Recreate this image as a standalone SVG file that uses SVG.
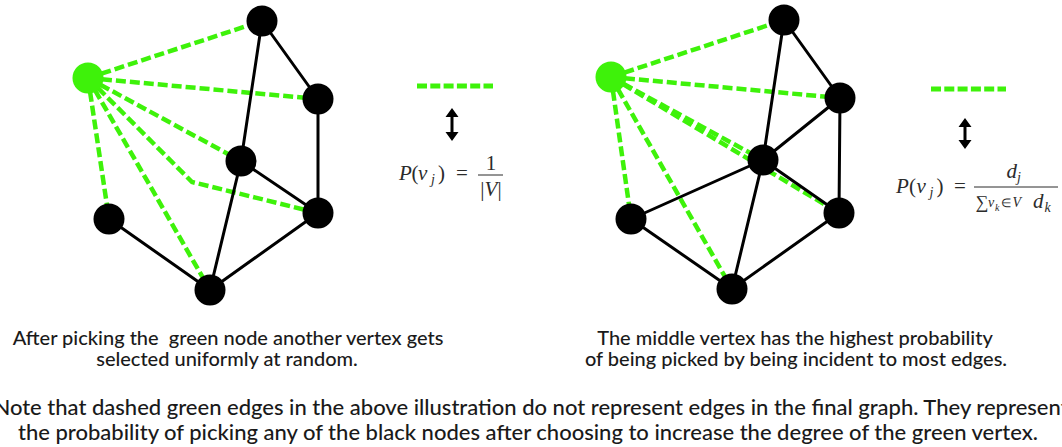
<svg xmlns="http://www.w3.org/2000/svg" width="1062" height="447" viewBox="0 0 1062 447">
<style>
.e{stroke:#000;stroke-width:3;fill:none;stroke-linecap:round}
.d{stroke:#3ef20a;stroke-width:4.5;fill:none;stroke-dasharray:10 4}
.n{fill:#000}
.g{fill:#3ef20a}
.cap{font-family:Lato,"Liberation Sans",sans-serif;font-size:20px;font-weight:500;fill:#1a1a1a;text-anchor:middle}
.note{font-family:Lato,"Liberation Sans",sans-serif;font-size:22px;font-weight:500;fill:#1a1a1a;text-anchor:middle}
.m{font-family:"Liberation Serif","Times New Roman",serif;font-size:21px;fill:#2b2b2b}
.i{font-style:italic}
.ld{stroke:#3ef20a;stroke-width:5;fill:none;stroke-dasharray:10 3.3}
.ar{stroke:#000;stroke-width:3;fill:none}
</style>

<!-- Left graph -->
<g id="left-connectors">
<path class="d" d="M88,78 L262,21"/>
<path class="d" d="M88,78 L318,99"/>
<path class="d" d="M88,78 L241,161"/>
<path class="d" d="M88,78 L192,182 L318,213"/>
<path class="d" d="M88,78 L210,290"/>
<path class="d" d="M88,78 L109,219"/>
<path class="e" d="M262,21 L318,99"/>
<path class="e" d="M262,21 L241,161"/>
<path class="e" d="M318,99 L318,213"/>
<path class="e" d="M241,161 L318,213"/>
<path class="e" d="M241,161 L210,290"/>
<path class="e" d="M318,213 L210,290"/>
<path class="e" d="M109,219 L210,290"/>
</g>
<g id="L-green"><circle class="g" cx="88" cy="78" r="15.5"/></g>
<g id="L-top"><circle class="n" cx="262" cy="21" r="15.5"/></g>
<g id="L-ru"><circle class="n" cx="318" cy="99" r="15.5"/></g>
<g id="L-mid"><circle class="n" cx="241" cy="161" r="15.5"/></g>
<g id="L-rl"><circle class="n" cx="318" cy="213" r="15.5"/></g>
<g id="L-ll"><circle class="n" cx="109" cy="219" r="15.5"/></g>
<g id="L-bot"><circle class="n" cx="210" cy="290" r="15.5"/></g>

<!-- Right graph -->
<g id="right-connectors">
<path class="d" d="M611,77 L784,20"/>
<path class="d" d="M611,77 L840,98"/>
<path class="d" d="M611,77 L763,160"/>
<path class="d" d="M611,77 L839,213"/>
<path class="d" d="M611,77 L732,289"/>
<path class="d" d="M611,77 L631,219"/>
<path class="e" d="M784,20 L840,98"/>
<path class="e" d="M784,20 L763,160"/>
<path class="e" d="M840,98 L763,160"/>
<path class="e" d="M840,98 L839,213"/>
<path class="e" d="M763,160 L839,213"/>
<path class="e" d="M763,160 L631,219"/>
<path class="e" d="M763,160 L732,289"/>
<path class="e" d="M631,219 L732,289"/>
<path class="e" d="M839,213 L732,289"/>
</g>
<g id="R-green"><circle class="g" cx="611" cy="77" r="15.5"/></g>
<g id="R-top"><circle class="n" cx="784" cy="20" r="15.5"/></g>
<g id="R-ru"><circle class="n" cx="840" cy="98" r="15.5"/></g>
<g id="R-mid"><circle class="n" cx="763" cy="160" r="15.5"/></g>
<g id="R-rl"><circle class="n" cx="839" cy="213" r="15.5"/></g>
<g id="R-ll"><circle class="n" cx="631" cy="219" r="15.5"/></g>
<g id="R-bot"><circle class="n" cx="732" cy="289" r="15.5"/></g>

<!-- Left legend -->
<g id="L-legend">
<line class="ld" x1="417" y1="86" x2="493" y2="86"/>
<line class="ar" x1="452" y1="114" x2="452" y2="135"/>
<path d="M445.5,117 L458.5,117 L452,108 z M445.5,132 L458.5,132 L452,141 z" fill="#000"/>
<text class="m" y="180"><tspan class="i" x="399">P</tspan><tspan x="411.5">(</tspan><tspan class="i" x="418">v</tspan><tspan class="i" x="431" y="184" font-size="14">j</tspan><tspan x="438" y="180">)</tspan><tspan x="456">=</tspan></text>
<text class="m" x="491" y="170" text-anchor="middle">1</text>
<line x1="478" y1="175" x2="503" y2="175" stroke="#2b2b2b" stroke-width="1"/>
<text class="m" x="491" y="196" text-anchor="middle">|<tspan class="i">V</tspan>|</text>
</g>

<!-- Right legend -->
<g id="R-legend">
<line class="ld" x1="931" y1="89" x2="1006" y2="89"/>
<line class="ar" x1="965" y1="124" x2="965" y2="143"/>
<path d="M958.5,127 L971.5,127 L965,118 z M958.5,140 L971.5,140 L965,149 z" fill="#000"/>
<text class="m" y="193"><tspan class="i" x="896">P</tspan><tspan x="909">(</tspan><tspan class="i" x="916.5">v</tspan><tspan class="i" x="929.5" y="197" font-size="14">j</tspan><tspan x="936.5" y="193">)</tspan><tspan x="954">=</tspan></text>
<text class="m" y="178"><tspan class="i" x="1006.5">d</tspan><tspan class="i" x="1017" y="182" font-size="14">j</tspan></text>
<line x1="974" y1="187" x2="1058" y2="187" stroke="#2b2b2b" stroke-width="1"/>
<text class="m" y="208"><tspan x="975.5" font-size="18">∑</tspan><tspan class="i" x="988" y="207" font-size="14">v</tspan><tspan class="i" x="995" y="210.5" font-size="10">k</tspan><tspan x="1001" y="207" font-size="12">∈</tspan><tspan class="i" x="1012.5" font-size="14">V</tspan><tspan class="i" x="1033" y="208">d</tspan><tspan class="i" x="1044.5" y="212" font-size="14">k</tspan></text>
</g>

<!-- Captions -->
<g id="L-caption">
<text class="cap" x="228" y="345">After picking the&#160; green node another vertex gets</text>
<text class="cap" x="227" y="366">selected uniformly at random.</text>
</g>
<g id="R-caption">
<text class="cap" x="795" y="345">The middle vertex has the highest probability</text>
<text class="cap" x="796" y="366">of being picked by being incident to most edges.</text>
</g>
<g id="note">
<text class="note" x="531" y="415">Note that dashed green edges in the above illustration do not represent edges in the final graph. They represent</text>
<text class="note" x="528" y="440">the probability of picking any of the black nodes after choosing to increase the degree of the green vertex.</text>
</g>
</svg>
